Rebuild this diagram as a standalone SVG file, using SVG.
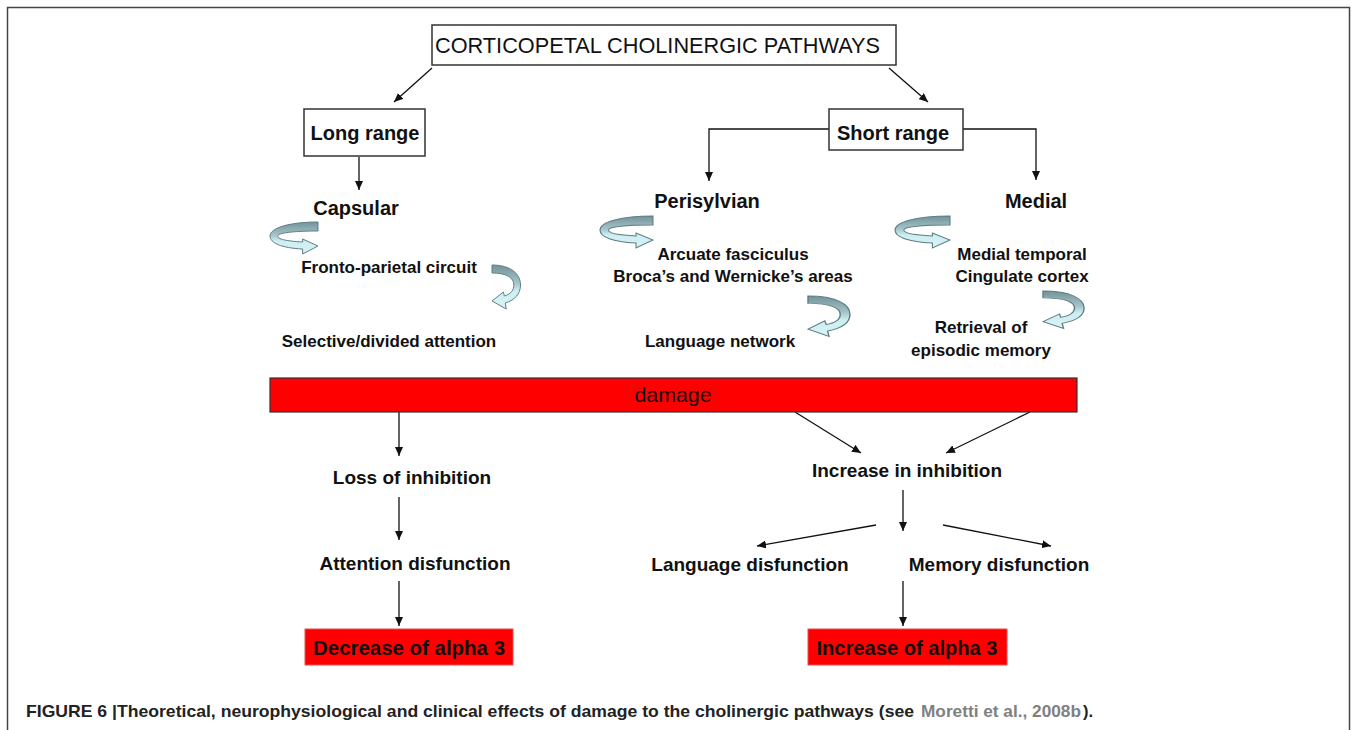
<svg xmlns="http://www.w3.org/2000/svg" width="1356" height="730" viewBox="0 0 1356 730">
<style>
text{font-family:"Liberation Sans",Arial,sans-serif;fill:#111;}
.h{font-size:20px;font-weight:bold;text-anchor:middle;}
.s{font-size:17px;font-weight:bold;text-anchor:middle;}
.m{font-size:19px;font-weight:bold;text-anchor:middle;}
.cap{font-size:17px;font-weight:bold;fill:#222;}
.box{fill:#fff;stroke:#333;stroke-width:1.5;}
.red{fill:#ff0000;stroke:#e05050;stroke-width:1;}
.ln{fill:none;stroke:#111;stroke-width:1.3;}
.rib{fill:url(#g);stroke:#5d7d82;stroke-width:1;vector-effect:non-scaling-stroke;}
</style>
<defs>
<marker id="ah" markerUnits="userSpaceOnUse" markerWidth="10" markerHeight="8" refX="9" refY="4" orient="auto">
<path d="M0,0 L9,4 L0,8 z" fill="#111"/>
</marker>
<linearGradient id="g" x1="0" y1="0" x2="0" y2="1">
<stop offset="0" stop-color="#73939a"/>
<stop offset="0.4" stop-color="#a3c3c8"/>
<stop offset="0.6" stop-color="#cdeef2"/>
<stop offset="1" stop-color="#d9f3f6"/>
</linearGradient>
<path id="ra" d="M50,0 C20,0 0,6 0,14 C0,21 12,26 34,27 L34,32 L50,24 L34,17 L34,20 C16,19 8,17 8,14 C8,11 24,9 50,9 Z"/>
<path id="rb" d="M0,0 C20,0 30,9 30,20 C30,29 24,35 14,38 L15,44 L0,36 L12,27 L13,31 C20,29 23,25 23,20 C23,13 16,8 0,8 Z"/>
</defs>
<rect x="7.5" y="7.5" width="1342" height="740" fill="none" stroke="#444" stroke-width="1.5"/>

<g id="connectors">
<line class="ln" x1="432" y1="68" x2="394" y2="102" marker-end="url(#ah)"/>
<line class="ln" x1="889" y1="68" x2="928" y2="102" marker-end="url(#ah)"/>
<line class="ln" x1="359" y1="157" x2="359" y2="190" marker-end="url(#ah)"/>
<polyline class="ln" points="829,129 709,129 709,181" marker-end="url(#ah)"/>
<polyline class="ln" points="963,129 1036,129 1036,180" marker-end="url(#ah)"/>
<line class="ln" x1="399" y1="412" x2="399" y2="456" marker-end="url(#ah)"/>
<line class="ln" x1="795" y1="412" x2="861" y2="453" marker-end="url(#ah)"/>
<line class="ln" x1="1030" y1="412" x2="946" y2="453" marker-end="url(#ah)"/>
<line class="ln" x1="399" y1="497" x2="399" y2="540" marker-end="url(#ah)"/>
<line class="ln" x1="903" y1="490" x2="903" y2="531" marker-end="url(#ah)"/>
<line class="ln" x1="876" y1="525" x2="757" y2="546" marker-end="url(#ah)"/>
<line class="ln" x1="943" y1="525" x2="1051" y2="546" marker-end="url(#ah)"/>
<line class="ln" x1="399" y1="581" x2="399" y2="626" marker-end="url(#ah)"/>
<line class="ln" x1="903" y1="581" x2="903" y2="626" marker-end="url(#ah)"/>
<use href="#ra" class="rib" transform="translate(270,222) scale(0.96,1)"/>
<use href="#rb" class="rib" transform="translate(492,265) scale(0.95,1)"/>
<use href="#ra" class="rib" transform="translate(600,216) scale(1.06,1)"/>
<use href="#rb" class="rib" transform="translate(808,296) scale(1.4,0.92)"/>
<use href="#ra" class="rib" transform="translate(895,216) scale(1.1,1)"/>
<use href="#rb" class="rib" transform="translate(1043,291) scale(1.37,0.85)"/>
</g>

<g id="title"><rect class="box" x="432" y="25" width="464" height="40"/><text x="435" y="53" font-size="22" textLength="445" lengthAdjust="spacingAndGlyphs">CORTICOPETAL CHOLINERGIC PATHWAYS</text></g>
<g id="long-range"><rect class="box" x="304" y="109" width="121" height="47"/><text class="h" x="365" y="140">Long range</text></g>
<g id="short-range"><rect class="box" x="829" y="109" width="134" height="41"/><text class="h" x="893" y="140">Short range</text></g>

<g id="capsular"><text class="h" x="356" y="215">Capsular</text></g>
<g id="fronto"><text class="s" x="389" y="273">Fronto-parietal circuit</text></g>
<g id="selective"><text class="s" x="389" y="347">Selective/divided attention</text></g>

<g id="perisylvian"><text class="h" x="707" y="208">Perisylvian</text></g>
<g id="arcuate"><text class="s" x="733" y="260">Arcuate fasciculus</text><text class="s" x="733" y="282">Broca’s and Wernicke’s areas</text></g>
<g id="language-network"><text class="s" x="720" y="347">Language network</text></g>

<g id="medial"><text class="h" x="1036" y="208">Medial</text></g>
<g id="medial-temporal"><text class="s" x="1022" y="260">Medial temporal</text><text class="s" x="1022" y="282">Cingulate cortex</text></g>
<g id="retrieval"><text class="s" x="981" y="333">Retrieval of</text><text class="s" x="981" y="356">episodic memory</text></g>

<g id="damage"><rect x="270" y="378" width="807" height="34" fill="#ff0000" stroke="#333" stroke-width="1.2"/><text class="m" x="673" y="402" style="font-size:21px;font-weight:normal" textLength="77" lengthAdjust="spacingAndGlyphs">damage</text></g>

<g id="loss"><text class="m" x="412" y="484">Loss of inhibition</text></g>
<g id="attention"><text class="m" x="415" y="570">Attention disfunction</text></g>
<g id="decrease"><rect class="red" x="305" y="629" width="208" height="36"/><text class="m" x="409" y="655" style="font-size:20px" textLength="192" lengthAdjust="spacingAndGlyphs">Decrease of alpha 3</text></g>

<g id="increase-inh"><text class="m" x="907" y="477">Increase in inhibition</text></g>
<g id="language-dys"><text class="m" x="750" y="571">Language disfunction</text></g>
<g id="memory-dys"><text class="m" x="999" y="571">Memory disfunction</text></g>
<g id="increase"><rect class="red" x="808" y="629" width="199" height="36"/><text class="m" x="907" y="655" style="font-size:20px" textLength="181" lengthAdjust="spacingAndGlyphs">Increase of alpha 3</text></g>

<g id="caption">
<text class="cap" x="26" y="717" textLength="888" lengthAdjust="spacingAndGlyphs">FIGURE 6 |Theoretical, neurophysiological and clinical effects of damage to the cholinergic pathways (see</text>
<text class="cap" x="921" y="717" textLength="160" lengthAdjust="spacingAndGlyphs" style="fill:#808080">Moretti et al., 2008b</text>
<text class="cap" x="1083" y="717" textLength="10" lengthAdjust="spacingAndGlyphs">).</text>
</g>
</svg>
